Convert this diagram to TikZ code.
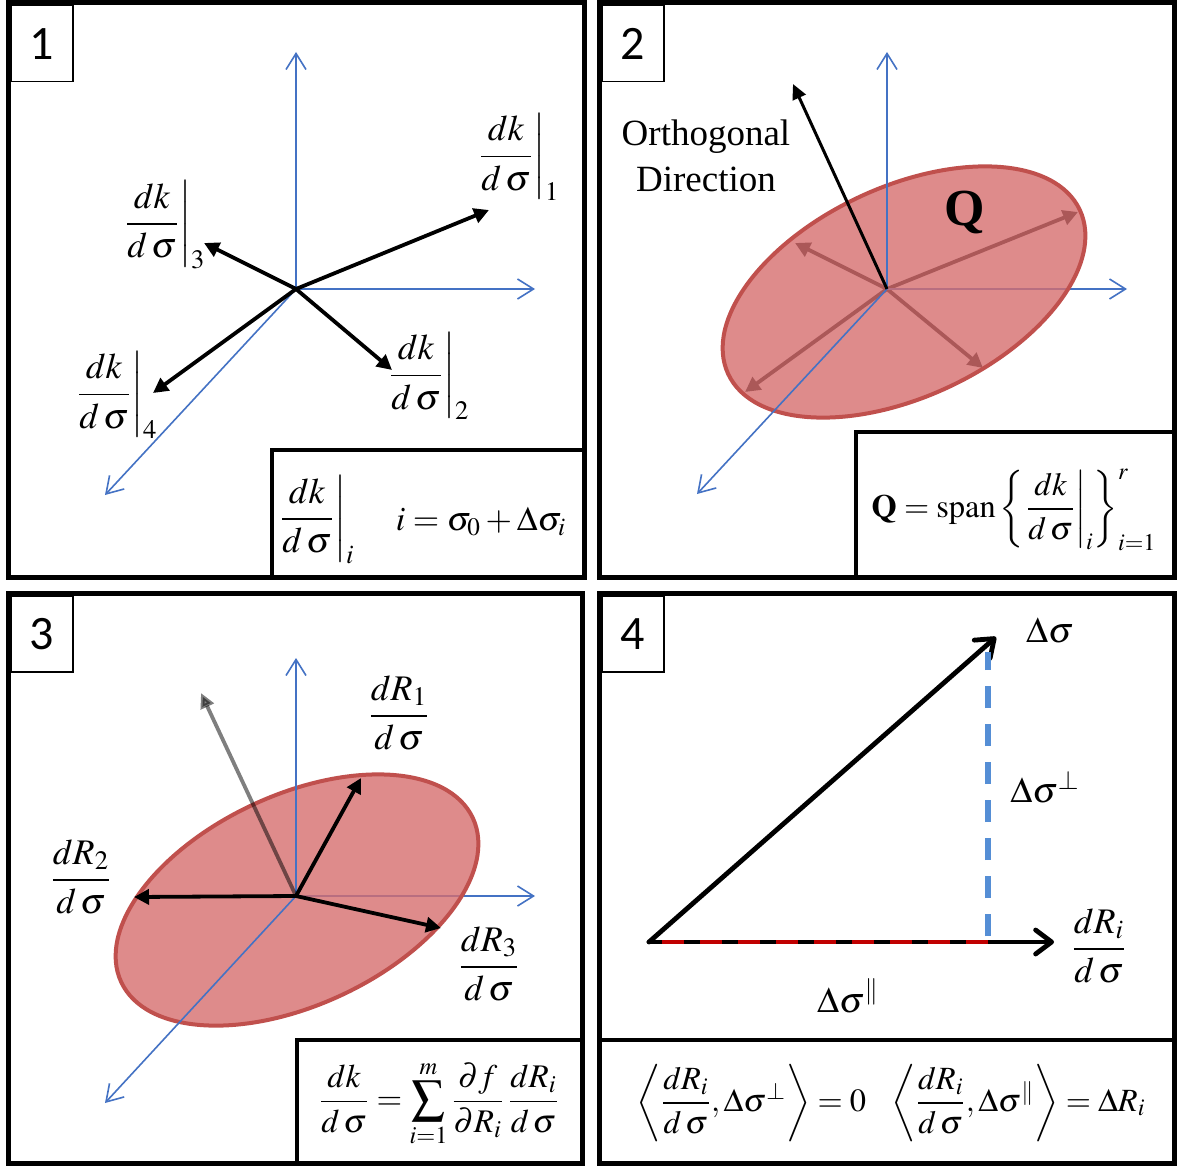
\documentclass[tikz,border=0pt]{standalone}
\usepackage{amsmath}
\usepackage{mathptmx}
\usepackage{fontspec}
\setmainfont{Liberation Serif}
\newfontfamily\numfont{Carlito}
\usetikzlibrary{arrows.meta}
\definecolor{axisblue}{RGB}{68,114,196}
\definecolor{ellred}{RGB}{192,80,77}
\definecolor{ellfillred}{RGB}{214,110,111}
\definecolor{dashblue}{RGB}{85,142,213}
\definecolor{dashred}{RGB}{192,0,0}
\newcommand{\dkds}{\dfrac{dk}{d\mkern2mu\sigma}}
\newcommand{\dRds}[1]{\dfrac{dR_{#1}}{d\mkern2mu\sigma}}

\begin{document}
\begin{tikzpicture}[x=0.5pt,y=-0.5pt,
  panel/.style={draw=black, line width=2.5pt},
  eqbox/.style={draw=black, line width=2pt},
  numbox/.style={draw=black, line width=0.75pt, minimum width=31pt, minimum height=38pt,
                 anchor=north west, inner sep=0pt, font=\numfont\fontsize{24}{28}\selectfont},
  axis/.style={-{Straight Barb[length=8pt,width=10pt]}, draw=axisblue, line width=0.8pt},
  vec/.style={-{Triangle[length=7.5pt,width=7.5pt]}, line width=1.9pt},
  orthvec/.style={-{Triangle[length=7.5pt,width=7pt]}, line width=1.5pt},
  bigvec/.style={-{Straight Barb[length=8pt,width=12pt,round]}, line width=2.4pt, line cap=round},
  ell/.style={draw=ellred, line width=2pt, fill=ellfillred, fill opacity=0.8},
  reddash/.style={draw=dashred, line width=2.4pt, dash pattern=on 11pt off 8pt, dash phase=12.5pt},
  bluedash/.style={draw=dashblue, line width=2.6pt, dash pattern=on 11pt off 8pt},
  lbl/.style={inner sep=1pt, font=\fontsize{18}{22}\selectfont},
  eqlbl/.style={lbl, font=\fontsize{#1}{20}\selectfont}
]
\useasboundingbox (0,0) rectangle (1177,1166);
\fill[white] (0,0) rectangle (1177,1166);

% ---------- panel 1
\coordinate (o1) at (296,289);
\coordinate (a1y) at (296,52);
\coordinate (a1x) at (535,289);
\coordinate (a1z) at (105,495);
\coordinate (t11) at (489,210);
\coordinate (t12) at (392,370);
\coordinate (t13) at (204,243);
\coordinate (t14) at (153,393);
\draw[axis] (o1) -- (a1y);
\draw[axis] (o1) -- (a1x);
\draw[axis] (o1) -- (a1z);
\foreach \t in {t11,t12,t13,t14}
  \draw[vec] (o1) -- (\t);
\node[lbl] (l11) at (518,157) {$\left.\dkds\right|_1$};
\node[lbl] (l12) at (428,376) {$\left.\dkds\right|_2$};
\node[lbl] (l13) at (164,225) {$\left.\dkds\right|_3$};
\node[lbl] (l14) at (116,395) {$\left.\dkds\right|_4$};
\draw[eqbox] (272,450) rectangle (584,577);
\node[lbl] (e1a) at (316,520) {$\left.\dkds\right|_i$};
\node[eqlbl=17] (e1b) at (481,522) {$i=\sigma_0+\Delta\sigma_i$};
\draw[panel] (8,3) rectangle (584,577);
\node[numbox] (n1) at (10,5) {1};

% ---------- panel 2
\coordinate (o2) at (887,289);
\coordinate (a2y) at (887,52);
\coordinate (a2x) at (1127,289);
\coordinate (a2z) at (697,494);
\coordinate (c2) at (904,292);
\coordinate (t21) at (1078,212);
\coordinate (t22) at (983,368);
\coordinate (t23) at (795,243);
\coordinate (t24) at (745,392);
\coordinate (t2o) at (793,84);
\foreach \t in {t21,t22,t23,t24}
  \draw[vec] (o2) -- (\t);
\draw[axis] (o2) -- (a2x);
\draw[ell, rotate around={25:(c2)}] (c2) ellipse [x radius=194, y radius=105];
\draw[axis] (o2) -- (a2y);
\draw[axis] (o2) -- (a2z);
\draw[orthvec] (o2) -- (t2o);
\node[lbl, align=center, font=\fontsize{18.5}{23}\selectfont] (orth) at (706,156) {Orthogonal\\Direction};
\node[lbl, font=\fontsize{26}{30}\selectfont\bfseries] (q) at (965,213) {Q};
\draw[eqbox] (856,432) rectangle (1174,577);
\node[eqlbl=16.2] (e2) at (1014,510) {$\mathbf{Q}=\mathrm{span}\left\{\left.\dkds\right|_i\right\}_{i=1}^{r}$};
\draw[panel] (599,3) rectangle (1174,577);
\node[numbox] (n2) at (601,5) {2};

% ---------- panel 3
\coordinate (o3) at (296,896);
\coordinate (a3y) at (296,658);
\coordinate (a3x) at (535,896);
\coordinate (a3z) at (105,1103);
\coordinate (c3) at (297,900);
\coordinate (t31) at (361,778);
\coordinate (t32) at (134,897);
\coordinate (t33) at (441,928);
\coordinate (t3o) at (201,693);
\draw[axis] (o3) -- (a3x);
\draw[ell, rotate around={25:(c3)}] (c3) ellipse [x radius=194, y radius=105];
\draw[axis] (o3) -- (a3y);
\draw[axis] (o3) -- (a3z);
\draw[orthvec, draw opacity=0.5, fill opacity=0.5, line width=1.9pt] (o3) -- (t3o);
\foreach \t in {t31,t32,t33}
  \draw[vec] (o3) -- (\t);
\node[lbl] (l31) at (399,713) {$\dRds{1}$};
\node[lbl] (l32) at (81,877) {$\dRds{2}$};
\node[lbl] (l33) at (489,964) {$\dRds{3}$};
\draw[eqbox] (297,1040) rectangle (582,1163);
\node[eqlbl=16.5] (e3) at (439,1104) {$\displaystyle\dkds=\sum_{i=1}^{m}\dfrac{\partial f}{\partial R_i}\,\dRds{i}$};
\draw[panel] (8,593) rectangle (582,1163);
\node[numbox] (n3) at (10,595) {3};

% ---------- panel 4
\coordinate (o4) at (649,942);
\coordinate (t4s) at (996,637);
\coordinate (t4r) at (1054,942);
\coordinate (f4) at (988,942);
\coordinate (f4b) at (988,936);
\coordinate (f4t) at (988,652);
\draw[bigvec] (o4) -- (t4s);
\draw[bigvec] (o4) -- (t4r);
\draw[reddash] (o4) -- (f4);
\draw[bluedash] (f4b) -- (f4t);
\node[lbl] (l4s) at (1050,631) {$\Delta\sigma$};
\node[lbl] (l4p) at (1045,787) {$\Delta\sigma^{\perp}$};
\node[lbl] (l4r) at (1099,946) {$\dRds{i}$};
\node[lbl] (l4q) at (848,996) {$\Delta\sigma^{\parallel}$};
\draw[eqbox] (599,1040) -- (1174,1040);
\node[eqlbl=16.2] (e4) at (891,1103) {$\left\langle\dRds{i},\Delta\sigma^{\perp}\right\rangle=0\;\;\;
  \left\langle\dRds{i},\Delta\sigma^{\parallel}\right\rangle=\Delta R_i$};
\draw[panel] (599,593) rectangle (1174,1163);
\node[numbox] (n4) at (601,595) {4};
\end{tikzpicture}
\end{document}
